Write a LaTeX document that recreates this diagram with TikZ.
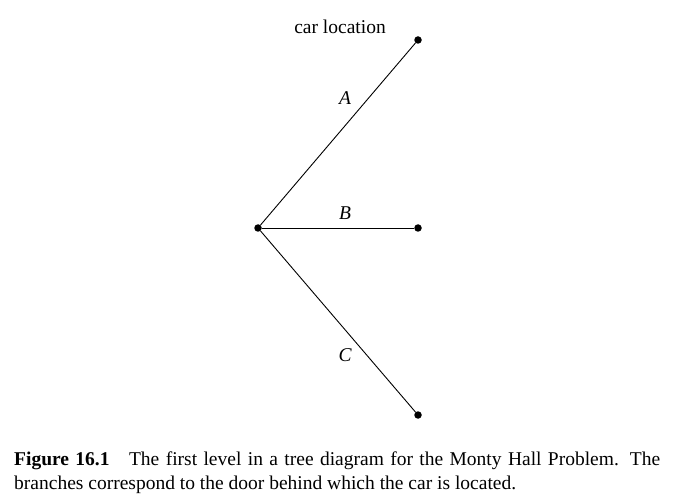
\documentclass[tikz,border=0pt]{standalone}
\usepackage{fontspec}
\setmainfont{Liberation Serif}
\begin{document}
\begin{tikzpicture}[x=1bp,y=-1bp,
  dot/.style={circle,fill=black,inner sep=0pt,minimum size=7.5bp},
  branch/.style={line width=0.9bp},
  lbl/.style={font=\fontsize{19.5bp}{22bp}\selectfont\itshape,inner sep=0pt}]
\useasboundingbox (0,0) rectangle (683,500);
\node[dot] (root) at (258,228) {};
\node[dot] (a) at (418,40) {};
\node[dot] (b) at (418,228) {};
\node[dot] (c) at (418,415) {};
\draw[branch] (root) -- (a);
\draw[branch] (root) -- (b);
\draw[branch] (root) -- (c);
\node[lbl] (la) at (345,98) {A};
\node[lbl] (lb) at (345,213) {B};
\node[lbl] (lc) at (345,355) {C};
\node[font=\fontsize{19.5bp}{22bp}\selectfont,inner sep=0pt] (title) at (340,27) {car location};
\node[anchor=north west,inner sep=0pt,text width=646bp,align=justify,
  font=\fontsize{19.5bp}{24bp}\selectfont] (cap) at (14,452)
  {\hyphenpenalty=10000\textbf{Figure 16.1}\quad The first level in a tree diagram for the Monty Hall Problem. The\linebreak branches correspond to the door behind which the car is located.};
\end{tikzpicture}
\end{document}
